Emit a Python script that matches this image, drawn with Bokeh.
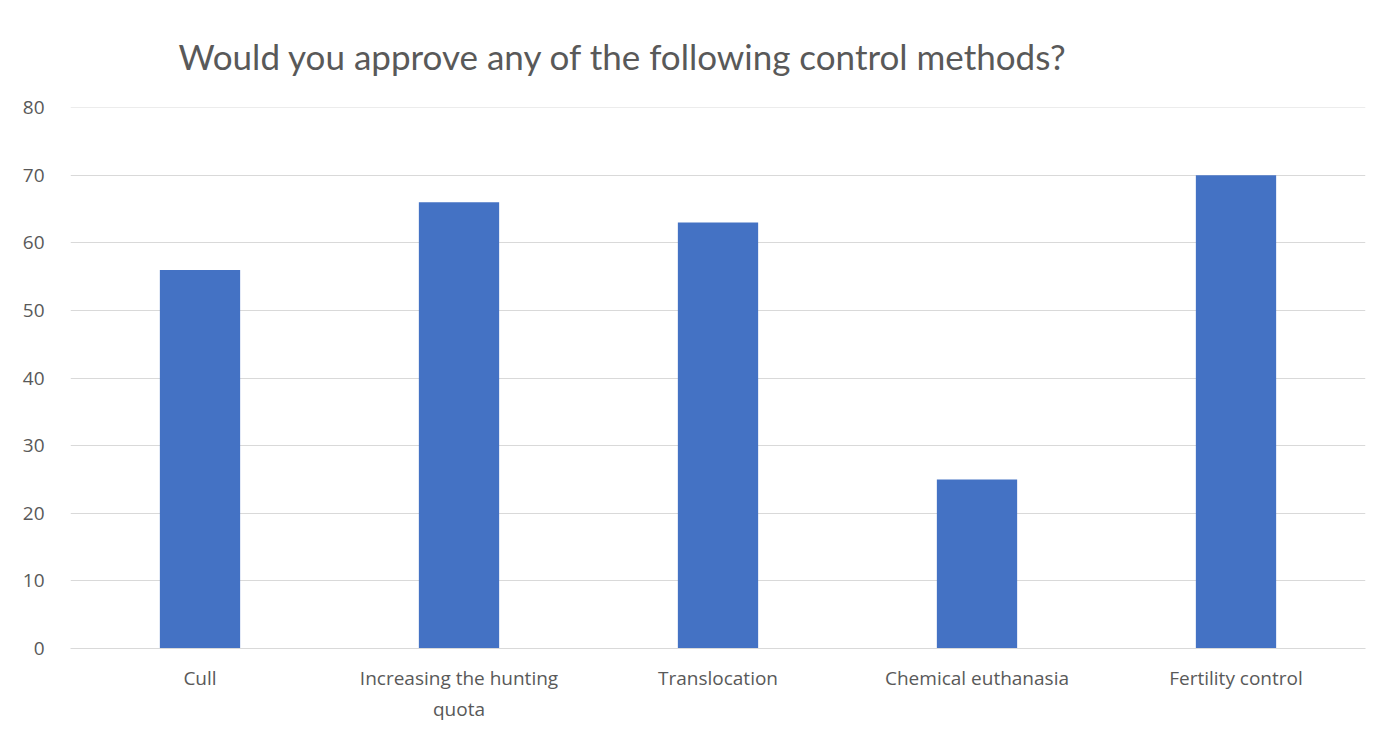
from bokeh.plotting import figure
from bokeh.embed import file_html
from bokeh.resources import INLINE
from bokeh.models import ColumnDataSource, FixedTicker, Title

categories = ["Cull", "Increasing the hunting\nquota", "Translocation",
              "Chemical euthanasia", "Fertility control"]
values = [56, 66, 63, 25, 70]
y_ticks = [0, 10, 20, 30, 40, 50, 60, 70, 80]
title_text = "Would you approve any of the following control methods?"

src = ColumnDataSource(data=dict(cat=categories, val=values))

p = figure(x_range=categories, y_range=(0, 80.03), width=1377, height=735,
           output_backend="svg", toolbar_location=None,
           min_border_left=70, min_border_right=12, min_border_bottom=87,
           min_border_top=107)
p.add_layout(Title(text=title_text, align="left", offset=108, standoff=62,
                   text_font="Lato", text_font_size="35px",
                   text_font_style="normal", text_color="#595959"), "above")

p.vbar(x="cat", top="val", width=0.31, source=src, color="#4472c4", line_color=None)

p.outline_line_color = None
p.background_fill_color = "white"
p.border_fill_color = "white"

p.xgrid.grid_line_color = None
p.ygrid.grid_line_color = "#d9d9d9"
p.ygrid.grid_line_width = 1
p.yaxis.ticker = FixedTicker(ticks=y_ticks)

p.yaxis.axis_line_color = None
p.yaxis.major_tick_line_color = None
p.yaxis.minor_tick_line_color = None
p.yaxis.major_label_text_font = "Open Sans"
p.yaxis.major_label_text_font_size = "19px"
p.yaxis.major_label_text_color = "#595959"
p.yaxis.major_label_standoff = 20

p.xaxis.axis_line_color = "#d9d9d9"
p.xaxis.major_tick_line_color = None
p.xaxis.minor_tick_line_color = None
p.xaxis.major_label_text_font = "Open Sans"
p.xaxis.major_label_text_font_size = "19px"
p.xaxis.major_label_text_color = "#595959"
p.xaxis.major_label_standoff = 10

open("out.html", "w").write(file_html(p, INLINE))
